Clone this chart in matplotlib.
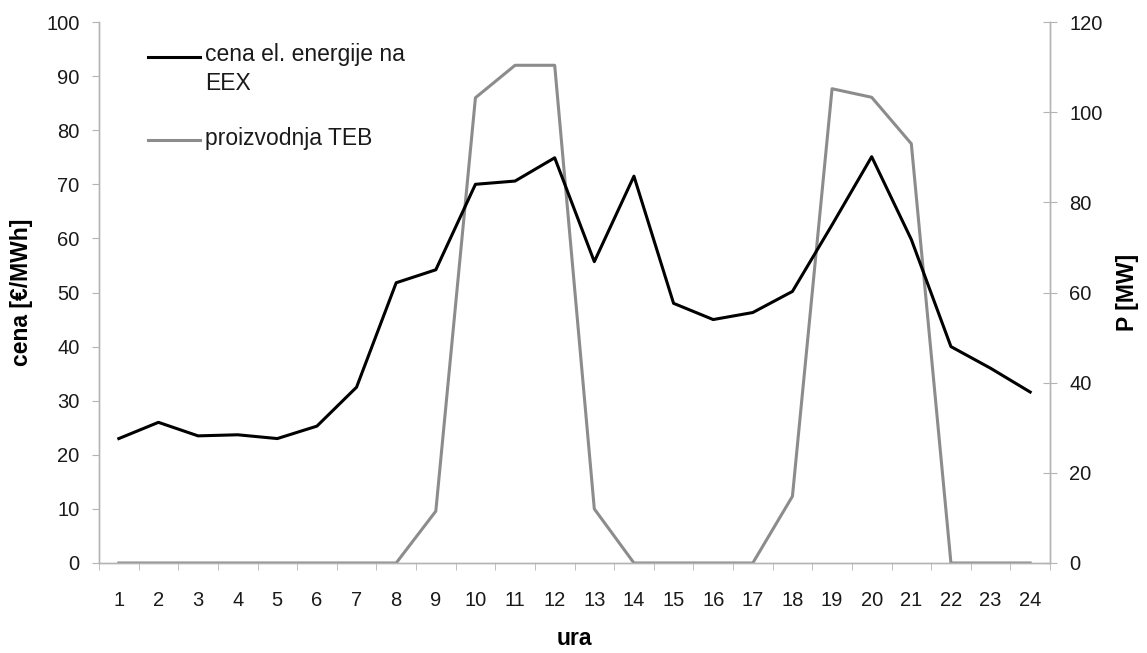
import numpy as np
import matplotlib.pyplot as plt
from matplotlib.lines import Line2D

plt.rcParams['font.family'] = ['Liberation Sans', 'DejaVu Sans']
plt.rcParams['text.color'] = '#1a1a1a'

# ura v dnevu
ure = list(range(1, 25))
# cena el. energije na EEX [EUR/MWh]
cena = [23.0, 26.0, 23.5, 23.7, 23.0, 25.3, 32.5, 51.8, 54.2, 70.0, 70.6, 74.9,
        55.7, 71.5, 48.0, 45.0, 46.3, 50.2, 62.5, 75.1, 59.8, 40.0, 36.0, 31.6]
# proizvodnja TEB [MW]
proizvodnja = [0, 0, 0, 0, 0, 0, 0, 0, 11.5, 103.2, 110.4, 110.4,
               12.0, 0, 0, 0, 0, 14.8, 105.2, 103.3, 93.0, 0, 0, 0]

axis_col = '#b4b4b4'
tick_txt = '#1a1a1a'
sivo = '#8c8c8c'
W, H = 1147, 653

fig = plt.figure(figsize=(W / 100, H / 100), dpi=100)
ax = fig.add_axes([99 / W, 1 - 563 / H, 951 / W, 541 / H])
ax2 = ax.twinx()

ax.plot(ure, cena, color='black', lw=2.2, zorder=3)
ax2.plot(ure, proizvodnja, color=sivo, lw=2.2)
ax.set_zorder(ax2.get_zorder() + 1)
ax.patch.set_visible(False)

ax.set_xlim(0.5, 24.5)
ax.set_ylim(0, 100)
ax2.set_ylim(0, 120)
ax.set_yticks(np.arange(0, 101, 10))
ax2.set_yticks(np.arange(0, 121, 20))
ax.set_xticks(ure)
ax.set_xticks(np.arange(0.5, 25, 1), minor=True)
ax.tick_params(axis='x', which='major', length=0, pad=20, labelsize=14.5,
               labelcolor=tick_txt)
ax.tick_params(axis='x', which='minor', length=5, color=axis_col, direction='out')
ax.tick_params(axis='y', length=5, color=axis_col, pad=9, labelsize=14.5,
               labelcolor=tick_txt)
ax2.tick_params(axis='y', length=10, color=axis_col, direction='inout', pad=9,
                labelsize=14.5, labelcolor=tick_txt)

for a in (ax, ax2):
    a.spines['top'].set_visible(False)
    for s in ('left', 'right', 'bottom'):
        a.spines[s].set_color(axis_col)
        a.spines[s].set_linewidth(1.0)

ax.set_ylabel('cena [€/MWh]', fontsize=16.5, fontweight='bold')
ax2.set_ylabel('P [MW]', fontsize=16.5, fontweight='bold')
ax.set_xlabel('ura', fontsize=16.5, fontweight='bold')
ax.yaxis.set_label_coords(-0.081, 0.5)
ax2.yaxis.set_label_coords(1.081, 0.5)
ax.xaxis.set_label_coords(0.5, -0.14)
ax.yaxis.label.set_va('center')
ax2.yaxis.label.set_va('center')
ax.xaxis.label.set_va('center')

# legenda
def fx(x):
    return x / W

def fy(y):
    return 1 - y / H

fig.lines.append(Line2D([fx(148), fx(200)], [fy(57), fy(57)], color='black',
                        lw=2.2, transform=fig.transFigure))
fig.lines.append(Line2D([fx(148), fx(200)], [fy(140), fy(140)], color=sivo,
                        lw=2.2, transform=fig.transFigure))
fig.text(fx(205), fy(69), 'cena el. energije na\nEEX', fontsize=16.5,
         va='center', ha='left', linespacing=1.3)
fig.text(fx(205), fy(138), 'proizvodnja TEB', fontsize=16.5,
         va='center', ha='left')

fig.savefig('out.png', dpi=100)
